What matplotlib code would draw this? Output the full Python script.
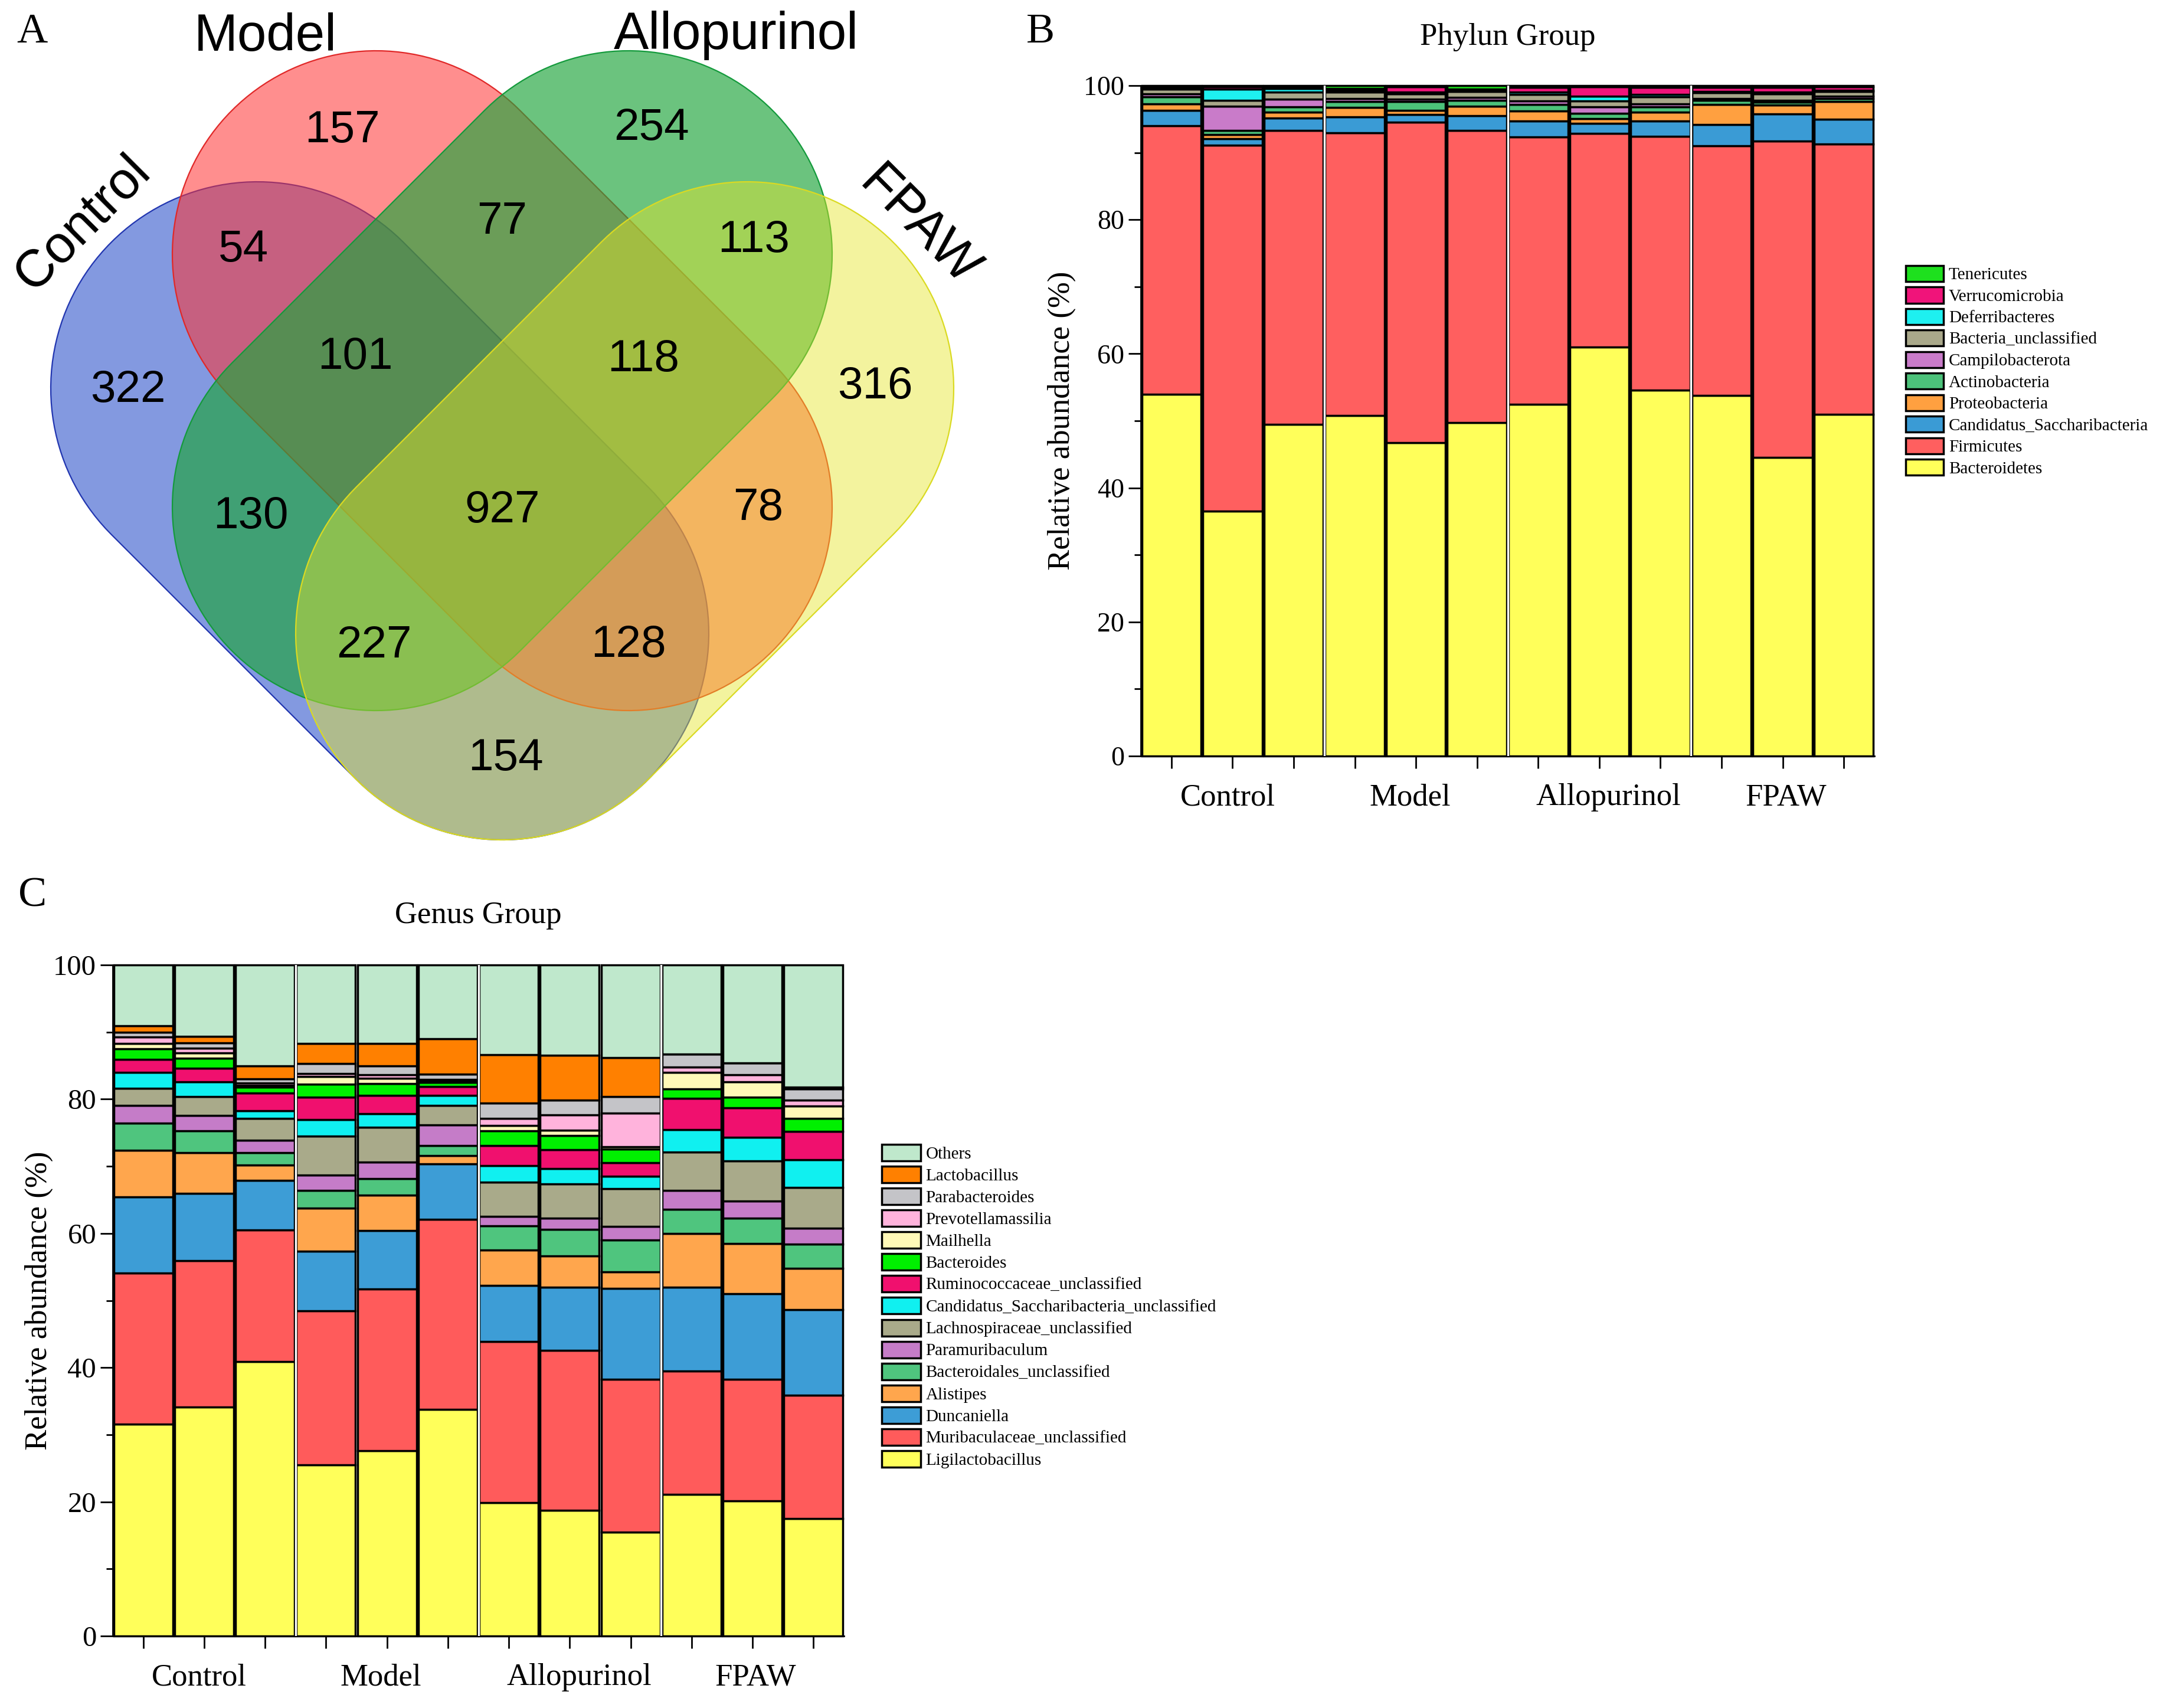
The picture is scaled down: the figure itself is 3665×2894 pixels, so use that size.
import numpy as np
import matplotlib
matplotlib.use("Agg")
import matplotlib.pyplot as plt
from matplotlib.patches import Polygon
from matplotlib.colors import to_rgba

W, H = 3665, 2894
SERIF = ["Liberation Serif", "DejaVu Serif"]
SANS = ["Liberation Sans", "DejaVu Sans"]
plt.rcParams["font.family"] = SERIF

# ---------------- data ----------------
groups = ["Control", "Model", "Allopurinol", "FPAW"]
group_label_x = [0.92, 3.9, 7.15, 10.05]
n_samples = 12

# Venn: shared / unique feature counts
venn_sets = ["Control", "Model", "Allopurinol", "FPAW"]
venn_regions = ["C", "M", "A", "F", "CM", "MA", "AF", "CMA", "MAF",
                "CA", "CMAF", "MF", "CAF", "CMF", "CF"]
venn_counts = [322, 157, 254, 316, 54, 77, 113, 101, 118,
               130, 927, 78, 227, 128, 154]

# Phylum level relative abundance (%), 12 samples
phyla = ["Bacteroidetes", "Firmicutes", "Candidatus_Saccharibacteria",
         "Proteobacteria", "Actinobacteria", "Campilobacterota",
         "Bacteria_unclassified", "Deferribacteres", "Verrucomicrobia",
         "Tenericutes"]
bacteroidetes = [54.0, 36.5, 49.5, 50.8, 46.7, 49.7, 52.5, 61.0, 54.6, 53.8, 44.5, 51.0]
firmicutes = [40.0, 54.6, 43.8, 42.2, 47.8, 43.6, 39.8, 31.9, 37.8, 37.2, 47.2, 40.3]
saccharibacteria = [2.3, 1.0, 1.9, 2.3, 1.2, 2.2, 2.4, 1.5, 2.3, 3.2, 4.1, 3.7]
proteobacteria = [1.0, 0.6, 0.8, 1.4, 0.6, 1.4, 1.5, 0.7, 1.3, 3.0, 1.3, 2.6]
actinobacteria = [1.0, 0.6, 0.8, 0.9, 1.3, 0.9, 1.0, 0.8, 0.8, 0.6, 0.4, 0.5]
campilobacterota = [0.5, 3.6, 1.2, 0.5, 0.4, 0.4, 0.5, 0.9, 0.5, 0.3, 0.3, 0.3]
bacteria_uncl = [0.7, 0.9, 1.0, 0.9, 0.8, 0.9, 1.0, 0.9, 1.0, 0.8, 1.0, 0.7]
deferribacteres = [0.2, 1.7, 0.6, 0.3, 0.2, 0.2, 0.3, 0.7, 0.4, 0.2, 0.2, 0.2]
verrucomicrobia = [0.2, 0.3, 0.2, 0.3, 0.8, 0.2, 0.7, 1.4, 1.0, 0.6, 0.7, 0.5]
tenericutes = [0.1, 0.2, 0.2, 0.4, 0.2, 0.5, 0.3, 0.2, 0.3, 0.3, 0.3, 0.2]
phylum_values = [bacteroidetes, firmicutes, saccharibacteria, proteobacteria,
                 actinobacteria, campilobacterota, bacteria_uncl,
                 deferribacteres, verrucomicrobia, tenericutes]
phylum_colors = ["#FFFF5A", "#FF5F5F", "#3A9BD5", "#FFA040", "#4CC27A",
                 "#C97BC9", "#A9A88A", "#1EF0F0", "#F0147A", "#1EE01E"]

# Genus level relative abundance (%), 12 samples
genera = ["Ligilactobacillus", "Muribaculaceae_unclassified", "Duncaniella",
          "Alistipes", "Bacteroidales_unclassified", "Paramuribaculum",
          "Lachnospiraceae_unclassified",
          "Candidatus_Saccharibacteria_unclassified",
          "Ruminococcaceae_unclassified", "Bacteroides", "Mailhella",
          "Prevotellamassilia", "Parabacteroides", "Lactobacillus", "Others"]
ligilactobacillus = [31.6, 34.1, 40.9, 25.5, 27.6, 33.8, 19.9, 18.7, 15.5, 21.1, 20.1, 17.5]
muribaculaceae = [22.5, 21.8, 19.6, 23.0, 24.1, 28.3, 24.0, 23.9, 22.8, 18.4, 18.2, 18.4]
duncaniella = [11.3, 10.1, 7.4, 8.8, 8.7, 8.3, 8.3, 9.4, 13.5, 12.5, 12.7, 12.7]
alistipes = [7.0, 6.0, 2.3, 6.5, 5.3, 1.2, 5.3, 4.6, 2.5, 8.0, 7.5, 6.2]
bacteroidales = [4.0, 3.3, 1.8, 2.6, 2.5, 1.5, 3.6, 4.0, 4.7, 3.6, 3.8, 3.6]
paramuribaculum = [2.7, 2.3, 1.9, 2.3, 2.4, 3.1, 1.4, 1.7, 2.0, 2.8, 2.5, 2.4]
lachnospiraceae = [2.5, 2.8, 3.2, 5.8, 5.2, 2.9, 5.1, 5.1, 5.7, 5.7, 6.0, 6.0]
sacchari_uncl = [2.4, 2.2, 1.2, 2.5, 2.0, 1.5, 2.5, 2.3, 1.8, 3.4, 3.5, 4.2]
ruminococcaceae = [1.9, 2.0, 2.6, 3.3, 2.8, 1.3, 3.0, 2.8, 2.0, 4.6, 4.4, 4.2]
bacteroides = [1.6, 1.5, 0.9, 1.9, 1.7, 0.6, 2.2, 2.1, 2.1, 1.4, 1.6, 1.9]
mailhella = [0.8, 0.8, 0.3, 1.2, 0.8, 0.2, 0.8, 0.8, 0.3, 2.5, 2.3, 1.9]
prevotellamassilia = [1.0, 0.7, 0.3, 0.4, 0.5, 0.2, 1.0, 2.3, 5.0, 0.8, 1.0, 0.9]
parabacteroides = [0.7, 0.8, 0.6, 1.5, 1.4, 0.8, 2.3, 2.2, 2.5, 1.9, 1.8, 1.6]
lactobacillus = [0.9, 1.0, 2.0, 3.0, 3.3, 5.3, 7.2, 6.6, 5.8, 0.0, 0.0, 0.3]
others = [9.1, 10.6, 15.0, 11.7, 11.7, 11.0, 13.4, 13.5, 13.8, 13.3, 14.6, 18.2]
genus_values = [ligilactobacillus, muribaculaceae, duncaniella, alistipes,
                bacteroidales, paramuribaculum, lachnospiraceae, sacchari_uncl,
                ruminococcaceae, bacteroides, mailhella, prevotellamassilia,
                parabacteroides, lactobacillus, others]
genus_colors = ["#FFFF5A", "#FF5B5B", "#3D9DD6", "#FFA64D", "#4FC57E",
                "#C57CC8", "#A9AA8A", "#10F0F0", "#F0106E", "#00F000",
                "#FFF9B8", "#FFB3DC", "#C4C4C8", "#FF8000", "#BFE8CC"]


def px(x, y):
    # pixel position in the reference -> figure fraction
    return x / W, 1 - y / H


fig = plt.figure(figsize=(W / 100, H / 100), dpi=100)

# ---------------- A: Venn ----------------
axA = fig.add_axes([0, 1 - 1450 / H, 1700 / W, 1450 / H])
axA.set_xlim(0, 1700)
axA.set_ylim(1450, 0)
axA.axis("off")


def capsule(c1, c2, r, n=80):
    c1 = np.asarray(c1, float)
    c2 = np.asarray(c2, float)
    d = c2 - c1
    t0 = np.arctan2(d[1], d[0])
    a = np.linspace(t0 - np.pi / 2, t0 + np.pi / 2, n)
    b = np.linspace(t0 + np.pi / 2, t0 + 3 * np.pi / 2, n)
    return np.vstack([c2 + r * np.c_[np.cos(a), np.sin(a)],
                      c1 + r * np.c_[np.cos(b), np.sin(b)]])


shapes = [((436, 658), (851, 1073), 350, "#1E46C8", 0.55, "#2236B0"),
          ((637, 431), (1065, 859), 345, "#FF3232", 0.55, "#E02828"),
          ((1065, 431), (637, 859), 345, "#1EA53C", 0.66, "#149A3C"),
          ((1266, 658), (851, 1073), 350, "#E6E628", 0.45, "#DADA22")]
for c1, c2, r, fc, al, ec in shapes:
    axA.add_patch(Polygon(capsule(c1, c2, r), closed=True,
                          facecolor=to_rgba(fc, al), edgecolor=ec, lw=1.6))

count_pos = {"C": (217, 661), "M": (580, 222), "A": (1104, 217), "F": (1483, 656),
             "CM": (412, 423), "MA": (851, 377), "AF": (1277, 407),
             "CMA": (602, 605), "MAF": (1090, 609), "CA": (425, 876),
             "CMAF": (851, 865), "MF": (1285, 862), "CAF": (634, 1095),
             "CMF": (1065, 1093), "CF": (857, 1285)}
for key, cnt in zip(venn_regions, venn_counts):
    axA.text(*count_pos[key], str(cnt), ha="center", va="center",
             fontsize=55, family=SANS)

set_pos = [(141, 379, 45), (450, 63, 0), (1247, 60, 0), (1556, 385, -45)]
for name, (sx, sy, rot) in zip(venn_sets, set_pos):
    axA.text(sx, sy, name, ha="center", va="center", rotation=rot,
             fontsize=64, family=SANS)


# ---------------- stacked bar helper ----------------
def stacked(ax, names, values, colors, ticksize):
    x = np.arange(n_samples)
    bottom = np.zeros(n_samples)
    for name, vals, col in zip(names, values, colors):
        ax.bar(x, vals, width=0.97, bottom=bottom, color=col,
               edgecolor="black", linewidth=2.5, label=name, clip_on=False)
        bottom += np.array(vals)
    for b in [2.5, 5.5, 8.5]:
        ax.axvline(b, color="white", lw=2.4, zorder=5)
    ax.set_xlim(-0.5, 11.5)
    ax.set_ylim(0, 100)
    for s in ["top", "right"]:
        ax.spines[s].set_visible(False)
    for s in ["left", "bottom"]:
        ax.spines[s].set_linewidth(2)
    ax.set_yticks(range(0, 101, 20))
    ax.set_yticks(range(10, 100, 20), minor=True)
    ax.set_xticks(x)
    ax.set_xticklabels([])
    ax.tick_params(axis="both", which="major", length=15, width=2,
                   direction="out", labelsize=ticksize, pad=5)
    ax.tick_params(axis="y", which="minor", length=8, width=2, direction="out")
    for gx, g in zip(group_label_x, groups):
        ax.text(gx, -0.062, g, transform=ax.get_xaxis_transform(),
                ha="center", va="center", fontsize=38)
    ax.set_ylabel("Relative abundance (%)", fontsize=38, va="center")
    h, l = ax.get_legend_handles_labels()
    return h[::-1], l[::-1]


# ---------------- B: phylum ----------------
axB = fig.add_axes([1933 / W, 1 - 1281 / H, (3176 - 1933) / W, (1281 - 145) / H])
hB, lB = stacked(axB, phyla, phylum_values, phylum_colors, 33)
axB.yaxis.set_label_coords((1799 - 1933) / 1243, 0.5)
axB.set_title("Phylun Group", fontsize=38, y=1 + 74 / 1136, va="center")
fig.legend(hB, lB, loc="upper left", bbox_to_anchor=px(3229, 450),
           frameon=False, prop={"family": SERIF, "size": 21},
           handlelength=2.2, handleheight=1.05, handletextpad=0.3,
           labelspacing=0.24, borderpad=0, borderaxespad=0)

# ---------------- C: genus ----------------
axC = fig.add_axes([191 / W, 1 - 2772 / H, (1430 - 191) / W, (2772 - 1635) / H])
hC, lC = stacked(axC, genera, genus_values, genus_colors, 35)
axC.yaxis.set_label_coords((66 - 191) / 1239, 0.5)
axC.set_title("Genus Group", fontsize=38, y=1 + 76 / 1137, va="center")
fig.legend(hC, lC, loc="upper left", bbox_to_anchor=px(1494, 1939),
           frameon=False, prop={"family": SERIF, "size": 21},
           handlelength=2.25, handleheight=1.1, handletextpad=0.3,
           labelspacing=0.245, borderpad=0, borderaxespad=0)

# panel letters
for letter, (lx, ly) in zip("ABC", [(54, 54), (1763, 55), (55, 1518)]):
    fig.text(*px(lx, ly), letter, ha="center", va="center", fontsize=52)

fig.savefig("out.png", dpi=100, facecolor="white")
